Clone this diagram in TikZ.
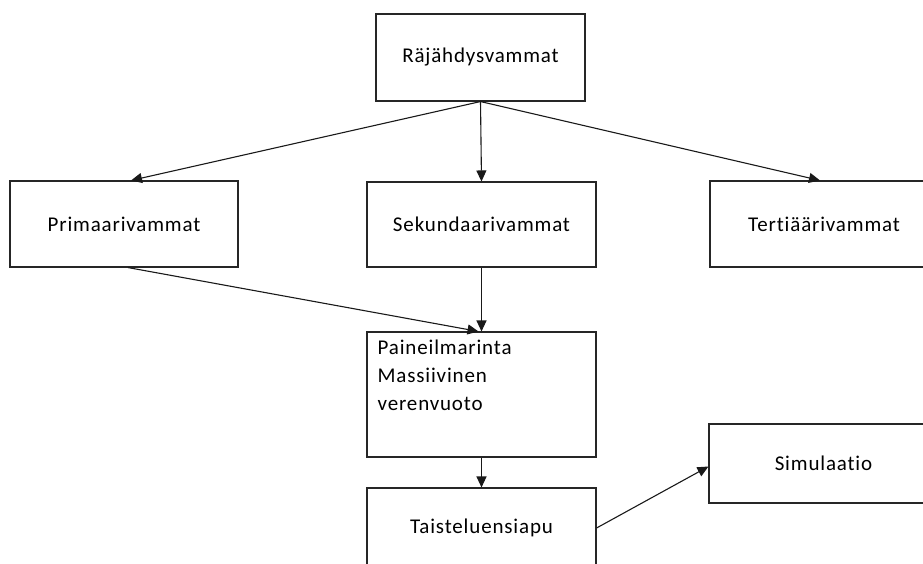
\documentclass[tikz,border=0pt]{standalone}
\usepackage{fontspec}
\setmainfont{Carlito}[LetterSpace=4,Ligatures=NoCommon]
\usetikzlibrary{arrows.meta,calc}
\begin{document}
\begin{tikzpicture}[x=1pt,y=-1pt,
  box/.style={draw=black!85, line width=1.1pt, rectangle, inner sep=0pt,
    font=\fontsize{21}{28}\selectfont},
  conn/.style={draw=black!90, line width=1.1pt, -{Triangle[length=11pt,width=10pt]}}]
\useasboundingbox (0,0) rectangle (923,563);
\clip (0,0) rectangle (923,563);
\node[box, minimum width=209pt, minimum height=87pt] (raj) at (480.5,57.5) {Räjähdysvammat};
\node[box, minimum width=228pt, minimum height=86pt] (prim) at (124,224) {Primaarivammat};
\node[box, minimum width=229pt, minimum height=85pt] (sek) at (481.5,224.5) {Sekundaarivammat};
\node[box, minimum width=228pt, minimum height=86pt] (ter) at (824,224) {Tertiäärivammat};
\node[box, minimum width=229pt, minimum height=125pt] (pai) at (481.5,394.5) {};
\node[anchor=north west, align=left, inner sep=0pt, font=\fontsize{21}{28}\selectfont]
  (paitxt) at ($(pai.north west)+(11,8)$) {Paineilmarinta\\Massiivinen\\verenvuoto};
\node[box, minimum width=229pt, minimum height=80pt] (tai) at (481.5,528) {Taisteluensiapu};
\node[box, minimum width=229pt, minimum height=79pt] (sim) at (823.5,463.5) {Simulaatio};
\draw[conn] (raj.south) -- ($(prim.north)+(7,0)$);
\draw[conn] (raj.south) -- (sek.north);
\draw[conn] (raj.south) -- ($(ter.north)+(-4,0)$);
\draw[conn] ($(prim.south)+(4,0)$) -- ($(pai.north)+(-3,0)$);
\draw[conn] (sek.south) -- (pai.north);
\draw[conn] (pai.south) -- (tai.north);
\draw[conn] (tai.east) -- ($(sim.west)+(0,3)$);
\end{tikzpicture}
\end{document}
